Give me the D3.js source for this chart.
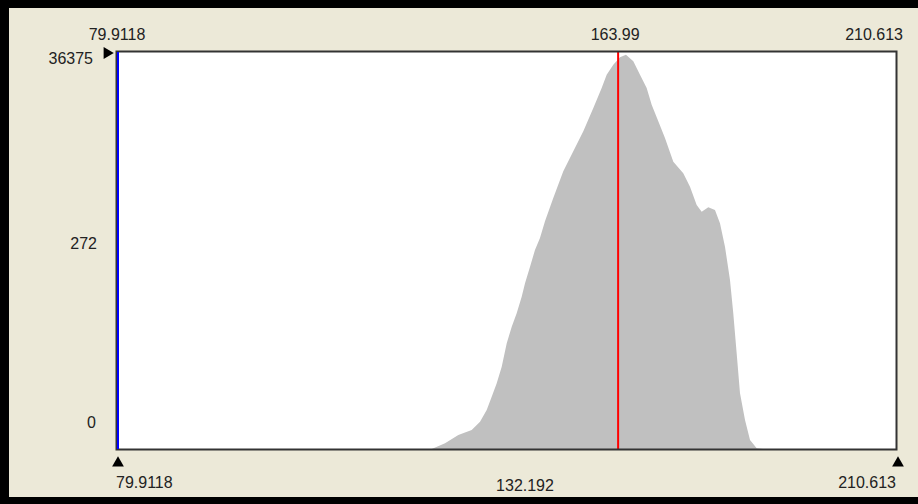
<!DOCTYPE html>
<html><head><meta charset="utf-8">
<script src="https://cdn.jsdelivr.net/npm/d3@7"></script>
<style>
html,body{margin:0;padding:0;background:#ECE9D8;}
svg{display:block;}
text{font-family:"Liberation Sans",Arial,sans-serif;font-size:16px;fill:#222;}
</style>
</head><body>
<svg id="c" width="918" height="504"></svg>
<script>
// ---- data ----
const rangeMin = 79.9118;
const rangeMax = 210.613;
const yMax = 36375;
const markerValue = 163.99;
const topLabels = ["79.9118", "163.99", "210.613"];
const bottomLabels = ["79.9118", "132.192", "210.613"];
const yLabels = ["36375", "272", "0"];
const binValues = [79.9118, 132.71, 134.95, 137.18, 139.42, 140.82, 141.94, 142.78, 143.62, 144.46, 145.30,
  146.14, 146.97, 147.81, 148.37, 149.21, 150.04, 150.88, 151.72, 153.11, 154.79, 156.47, 158.15,
  159.83, 161.23, 162.07, 163.18, 164.30, 165.31, 166.54, 167.66, 168.78, 169.62, 170.73, 171.85,
  173.25, 174.92, 176.05, 177.17, 178.01, 179.12, 180.24, 181.08, 181.92, 182.76, 183.31, 183.88,
  184.44, 185.28, 186.12, 187.24, 188.30, 210.613];
const binCounts = [0, 0, 522, 1283, 1741, 2501, 3573, 4792, 6020, 7541, 9685,
  11206, 12433, 13955, 15182, 16703, 18233, 19333, 20863, 22998, 25444, 27277, 29109,
  31244, 33077, 34295, 35212, 35889, 36128, 35523, 34295, 33077, 31546, 30026, 28495,
  26324, 25261, 24033, 22357, 21742, 22146, 21898, 20680, 18536, 15485, 12433, 8769,
  5104, 2657, 825, 64, 0, 0];

// ---- drawing ----
const W = 918, H = 504;
const plot = {left: 117, right: 896, top: 52, bottom: 449};
const svg = d3.select("#c");

svg.append("rect").attr("x", 0).attr("y", 0).attr("width", W).attr("height", H).attr("fill", "#ECE9D8");
// thick black frame (left, top, bottom)
svg.append("rect").attr("x", 0).attr("y", 0).attr("width", W).attr("height", 8).attr("fill", "#000");
svg.append("rect").attr("x", 0).attr("y", 0).attr("width", 9).attr("height", H).attr("fill", "#000");
svg.append("rect").attr("x", 0).attr("y", H - 7).attr("width", W).attr("height", 7).attr("fill", "#000");

const x = d3.scaleLinear().domain([rangeMin, rangeMax]).range([plot.left, plot.right]);
const y = d3.scaleLinear().domain([0, yMax]).range([plot.bottom, plot.top]);

svg.append("rect").attr("x", plot.left).attr("y", plot.top)
  .attr("width", plot.right - plot.left).attr("height", plot.bottom - plot.top)
  .attr("fill", "#fff");

const data = binValues.map((v, i) => ({v, c: binCounts[i]}));
svg.append("path").datum(data)
  .attr("fill", "#C0C0C0")
  .attr("d", d3.area().x(d => x(d.v)).y0(y(0)).y1(d => y(d.c)));

// red marker
svg.append("line").attr("x1", x(markerValue)).attr("x2", x(markerValue))
  .attr("y1", plot.top).attr("y2", plot.bottom)
  .attr("stroke", "#F00").attr("stroke-width", 2);

// plot border
svg.append("rect").attr("x", plot.left - 0.5).attr("y", plot.top - 0.5)
  .attr("width", plot.right - plot.left + 1).attr("height", plot.bottom - plot.top + 1)
  .attr("fill", "none").attr("stroke", "#333").attr("stroke-width", 2);

// blue line at range min
svg.append("line").attr("x1", x(rangeMin) + 1).attr("x2", x(rangeMin) + 1)
  .attr("y1", plot.top).attr("y2", plot.bottom)
  .attr("stroke", "#00F").attr("stroke-width", 2);

// top labels
svg.append("text").attr("x", x(rangeMin)).attr("y", 40).attr("text-anchor", "middle").text(topLabels[0]);
svg.append("text").attr("x", x(markerValue) - 3).attr("y", 40).attr("text-anchor", "middle").text(topLabels[1]);
svg.append("text").attr("x", x(rangeMax) + 7).attr("y", 40).attr("text-anchor", "end").text(topLabels[2]);

// bottom labels
svg.append("text").attr("x", x(rangeMin) - 1).attr("y", 488).attr("text-anchor", "start").text(bottomLabels[0]);
svg.append("text").attr("x", 525).attr("y", 491).attr("text-anchor", "middle").text(bottomLabels[1]);
svg.append("text").attr("x", x(rangeMax)).attr("y", 488).attr("text-anchor", "end").text(bottomLabels[2]);

// y labels
svg.append("text").attr("x", 93).attr("y", 64).attr("text-anchor", "end").text(yLabels[0]);
svg.append("text").attr("x", 97).attr("y", 249).attr("text-anchor", "end").text(yLabels[1]);
svg.append("text").attr("x", 96).attr("y", 428).attr("text-anchor", "end").text(yLabels[2]);

// markers (triangles)
const tri = d3.symbol().type(d3.symbolTriangle).size(60);
svg.append("path").attr("d", tri).attr("fill", "#000")
  .attr("transform", `translate(${x(rangeMin) + 1},${463})`);
svg.append("path").attr("d", tri).attr("fill", "#000")
  .attr("transform", `translate(${x(rangeMax) + 2},${463})`);
svg.append("path").attr("d", tri).attr("fill", "#000")
  .attr("transform", `translate(${107},${53}) rotate(90)`);
</script>
</body></html>
